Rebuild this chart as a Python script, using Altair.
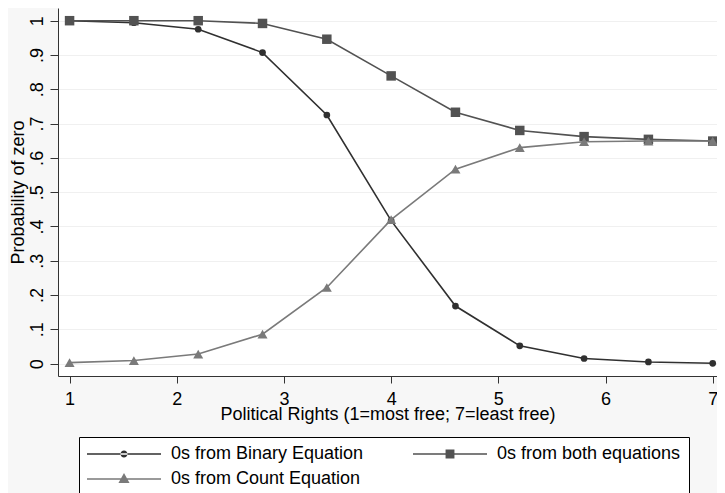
import json
import altair as alt
import pandas as pd

# ---- data ----
x_values = [1.0, 1.6, 2.2, 2.8, 3.4, 4.0, 4.6, 5.2, 5.8, 6.4, 7.0]
binary_eq = [1.000, 0.994, 0.975, 0.907, 0.725, 0.417, 0.168, 0.052, 0.015, 0.005, 0.001]
both_eq = [1.000, 1.000, 1.000, 0.992, 0.946, 0.839, 0.733, 0.680, 0.662, 0.654, 0.649]
count_eq = [0.003, 0.009, 0.028, 0.086, 0.222, 0.420, 0.567, 0.630, 0.647, 0.649, 0.649]

series_names = ["0s from Binary Equation", "0s from both equations", "0s from Count Equation"]
series_values = [binary_eq, both_eq, count_eq]

x_ticks = [1, 2, 3, 4, 5, 6, 7]
y_ticks = [0, 0.1, 0.2, 0.3, 0.4, 0.5, 0.6, 0.7, 0.8, 0.9, 1.0]
y_tick_labels = ["0", ".1", ".2", ".3", ".4", ".5", ".6", ".7", ".8", ".9", "1"]

x_title = "Political Rights (1=most free; 7=least free)"
y_title = "Probability of zero"

# ---- styles ----
series_colors = ["#303030", "#525252", "#7a7a7a"]
marker_shapes = ["circle", "square", "triangle-up"]
marker_sizes = [45, 90, 100]
legend_symbols = [
    "M-1,-0.02H1V0.02H-1Z M-0.095,0A0.095,0.095,0,1,0,0.095,0A0.095,0.095,0,1,0,-0.095,0Z",
    "M-1,-0.02H1V0.02H-1Z M-0.12,-0.12H0.12V0.12H-0.12Z",
    "M-1,-0.02H1V0.02H-1Z M0,-0.16L0.15,0.11L-0.15,0.11Z",
]
FONT = "Liberation Sans"

rows = []
for name, vals in zip(series_names, series_values):
    for xv, yv in zip(x_values, vals):
        rows.append({"x": xv, "y": yv, "series": name})
df = pd.DataFrame(rows)

x_scale = alt.Scale(domain=[0.892, 7.04], nice=False, zero=False)
y_scale = alt.Scale(domain=[-0.036, 1.037], nice=False, zero=False)

x_enc = alt.X(
    "x:Q",
    scale=x_scale,
    axis=alt.Axis(
        values=x_ticks,
        title=x_title,
        grid=False,
        tickSize=7,
        labelPadding=7,
        labelFontSize=18,
        labelFont=FONT,
        labelColor="black",
        titleFontSize=18,
        titleFont=FONT,
        titleFontWeight="normal",
        titleColor="black",
        titleBaseline="alphabetic",
        titleY=43,
        domainColor="#333333",
        tickColor="#333333",
    ),
)
label_expr = json.dumps(y_tick_labels) + "[round(datum.value*10)]"
y_enc = alt.Y(
    "y:Q",
    scale=y_scale,
    axis=alt.Axis(
        values=y_ticks,
        labelExpr=label_expr,
        title=y_title,
        grid=True,
        gridColor="#f0f0f0",
        gridWidth=1,
        tickSize=8,
        labelAngle=270,
        labelAlign="center",
        labelBaseline="alphabetic",
        labelPadding=8,
        labelFontSize=18,
        labelFont=FONT,
        labelColor="black",
        titleFontSize=18,
        titleFont=FONT,
        titleFontWeight="normal",
        titleColor="black",
        titleAngle=270,
        titleBaseline="alphabetic",
        titleX=-35,
        domainColor="#333333",
        tickColor="#333333",
    ),
)

layers = []
for name, col, shp, sz in zip(series_names, series_colors, marker_shapes, marker_sizes):
    base = alt.Chart(df).transform_filter(alt.datum.series == name)
    layers.append(
        base.mark_line(color=col, strokeWidth=1.6).encode(x=x_enc, y=y_enc)
    )
    layers.append(
        base.mark_point(shape=shp, filled=True, color=col, size=sz, opacity=1).encode(
            x=x_enc, y=y_enc
        )
    )

legend = alt.Legend(
    title=None,
    orient="none",
    legendX=21,
    legendY=429,
    direction="horizontal",
    columns=2,
    columnPadding=49,
    rowPadding=7,
    padding=8,
    clipHeight=18,
    strokeColor="black",
    fillColor="white",
    symbolSize=5476,
    symbolOpacity=1,
    symbolStrokeWidth=0,
    labelFontSize=18,
    labelFont=FONT,
    labelColor="black",
    labelOffset=10,
    labelLimit=400,
)
legend_layer = (
    alt.Chart(df)
    .mark_point(filled=True, opacity=0)
    .encode(
        x=x_enc,
        y=y_enc,
        color=alt.Color(
            "series:N",
            scale=alt.Scale(domain=series_names, range=series_colors),
            legend=legend,
        ),
        shape=alt.Shape(
            "series:N",
            scale=alt.Scale(domain=series_names, range=legend_symbols),
            legend=legend,
        ),
    )
)

chart = (
    alt.layer(*layers, legend_layer)
    .properties(
        width=659,
        height=368,
        autosize=alt.AutoSizeParams(type="none"),
        padding={"left": 50, "top": 0, "right": 0, "bottom": 117},
        background="#f7f7f7",
    )
    .configure_view(fill="white", stroke=None)
)

chart.save("out.html", embed_options={"renderer": "svg", "actions": False})
